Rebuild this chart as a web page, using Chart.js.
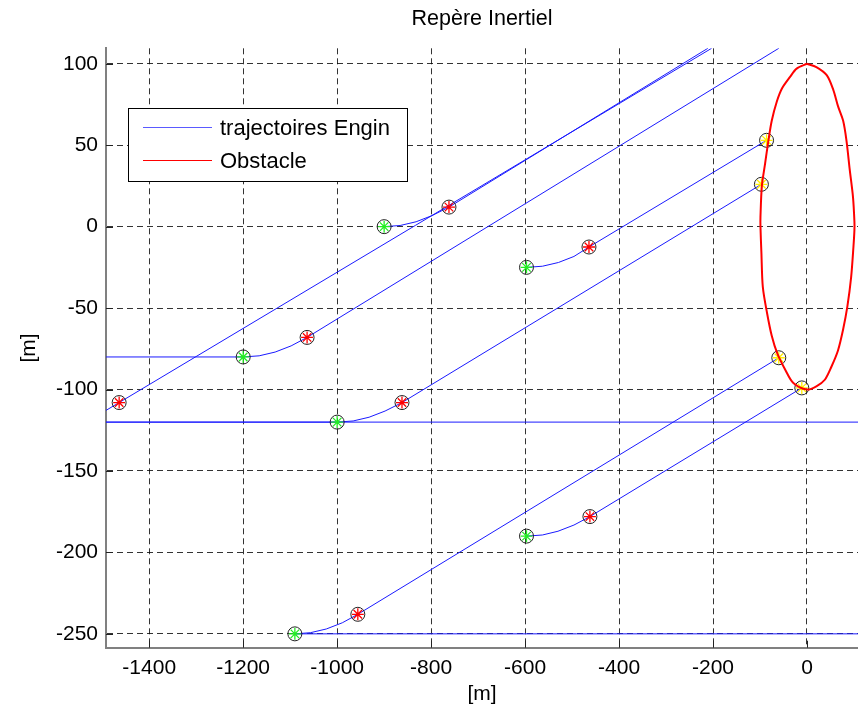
<!DOCTYPE html>
<html>
<head>
<meta charset="utf-8">
<script src="https://cdn.jsdelivr.net/npm/chart.js@4.4.1/dist/chart.umd.min.js"></script>
<style>
  html, body { margin: 0; padding: 0; background: #fff; }
  #chart { display: block; }
</style>
</head>
<body>
<canvas id="chart" width="858" height="707"></canvas>
<script>
// Tick labels
const xTicks = [-1400, -1200, -1000, -800, -600, -400, -200, 0];
const yTicks = [-250, -200, -150, -100, -50, 0, 50, 100];
const xMin = -1492, xMax = 108.6;
const yMin = -258.5, yMax = 109.5;

// Vehicle trajectories
const trajAX = [-1492, -1464, -203];
const trajAY = [-112.8, -108, 109.5];
const trajBX = [-1492, -1200, -1166, -1132, -1098, -1064, -60];
const trajBY = [-80, -80, -79.3, -77, -73.2, -68, 109.5];
const trajCX = [-900, -866, -832, -798, -762, -211];
const trajCY = [0, 0.7, 3, 6.8, 12, 109.5];
const trajDX = [-1492, -1000, -966, -932, -898, -862, -97];
const trajDY = [-120, -120, -119.3, -117, -113.2, -108, 26];
const trajEX = [-597, -563, -529, -496, -464, -86];
const trajEY = [-25, -24.3, -22, -18.3, -12.5, 53];
const trajFX = [-1492, 108.6];
const trajFY = [-120, -120];
const trajGX = [-1090, -1057, -1023, -989, -956, -60];
const trajGY = [-250, -249.3, -247, -243.2, -238, -80.5];
const trajHX = [-597, -563, -530, -496, -462, -11];
const trajHY = [-190, -189.3, -187, -183.2, -178, -99];
const trajIX = [-1090, 108.6];
const trajIY = [-250, -250];

// Obstacle outline
const obstacleX = [0, 20, 42, 56, 66, 77, 84, 91, 98, 101, 101, 99, 94, 86, 77, 66, 52, 38, 20, 0,
                   -29, -46, -63, -75, -85, -94, -97, -99, -99, -96, -89, -82, -75, -64, -53, -36, -22, 0];
const obstacleY = [100, 98, 93, 84, 74, 65, 53, 35, 18, 3, -2, -12, -31, -49, -63, -76, -86, -94, -98, -100,
                   -96, -88, -78, -67, -53, -37, -16, 0, 6, 25, 39, 53, 65, 77, 85, 92, 97, 100];

// Markers: start of manoeuvre (green), end of turn (red), contact (yellow)
const greenX = [-1200, -900, -1000, -597, -1090, -597];
const greenY = [-80, 0, -120, -25, -250, -190];
const redX = [-1464, -1064, -762, -862, -464, -956, -462];
const redY = [-108, -68, 12, -108, -12.5, -238, -178];
const yellowX = [-97, -86, -60, -11];
const yellowY = [26, 53, -80.5, -99];

const legendLabels = ['trajectoires Engin', 'Obstacle'];
const legendColors = ['#5a5aff', '#ff0000'];

function toPoints(xs, ys) {
    return xs.map((x, i) => ({ x: x, y: ys[i] }));
}

const trajectories = [
    [trajAX, trajAY], [trajBX, trajBY], [trajCX, trajCY], [trajDX, trajDY], [trajEX, trajEY],
    [trajFX, trajFY], [trajGX, trajGY], [trajHX, trajHY], [trajIX, trajIY]
];

const datasets = [];

// red obstacle on top
datasets.push({
    label: legendLabels[1],
    data: toPoints(obstacleX, obstacleY),
    showLine: true,
    borderColor: '#ff0000',
    borderWidth: 2,
    pointRadius: 0,
    tension: 0.3,
    order: 0
});

// markers: circle + star
function addMarkers(xs, ys, color) {
    datasets.push({
        data: toPoints(xs, ys),
        pointStyle: 'star',
        pointRadius: 6,
        pointBorderColor: color,
        pointBorderWidth: 1.3,
        showLine: false,
        order: 1
    });
    datasets.push({
        data: toPoints(xs, ys),
        pointStyle: 'circle',
        pointRadius: 7,
        pointBorderColor: '#222',
        pointBackgroundColor: 'rgba(255,255,255,0)',
        pointBorderWidth: 1,
        showLine: false,
        order: 1
    });
}
addMarkers(greenX, greenY, '#22ee22');
addMarkers(redX, redY, '#ff0000');
addMarkers(yellowX, yellowY, '#ffee00');

trajectories.forEach(t => {
    datasets.push({
        label: legendLabels[0],
        data: toPoints(t[0], t[1]),
        showLine: true,
        borderColor: '#1a1aff',
        borderWidth: 1,
        pointRadius: 0,
        order: 2
    });
});

// small inward ticks, like the original
const innerTicks = {
    id: 'innerTicks',
    beforeDatasetsDraw(chart) {
        const ctx = chart.ctx;
        const area = chart.chartArea;
        ctx.save();
        ctx.strokeStyle = '#222';
        ctx.lineWidth = 1;
        ctx.beginPath();
        xTicks.forEach(v => {
            const px = Math.round(chart.scales.x.getPixelForValue(v)) + 0.5;
            ctx.moveTo(px, area.bottom);
            ctx.lineTo(px, area.bottom - 7);
        });
        yTicks.forEach(v => {
            const py = Math.round(chart.scales.y.getPixelForValue(v)) + 0.5;
            ctx.moveTo(area.left, py);
            ctx.lineTo(area.left + 7, py);
        });
        ctx.stroke();
        ctx.restore();
    }
};

// boxed legend inside the plot
const boxLegend = {
    id: 'boxLegend',
    afterDraw(chart) {
        const ctx = chart.ctx;
        const bx = 128.5, by = 108.5, bw = 279, bh = 73;
        ctx.save();
        ctx.fillStyle = '#fff';
        ctx.fillRect(bx, by, bw, bh);
        ctx.strokeStyle = '#000';
        ctx.lineWidth = 1;
        ctx.strokeRect(bx, by, bw, bh);
        ctx.font = '22px "Liberation Sans", Arial, sans-serif';
        ctx.textBaseline = 'middle';
        ctx.fillStyle = '#000';
        legendLabels.forEach((lab, i) => {
            const y = 127.5 + i * 33;
            ctx.strokeStyle = legendColors[i];
            ctx.beginPath();
            ctx.moveTo(143, y);
            ctx.lineTo(212, y);
            ctx.stroke();
            ctx.fillText(lab, 220, y + 1);
        });
        ctx.restore();
    }
};

Chart.defaults.font.family = '"Liberation Sans", Arial, sans-serif';
Chart.defaults.color = '#000';

new Chart(document.getElementById('chart'), {
    type: 'scatter',
    data: { datasets: datasets },
    options: {
        responsive: false,
        animation: false,
        layout: { padding: 0, autoPadding: false },
        plugins: {
            legend: { display: false },
            tooltip: { enabled: false },
            title: {
                display: true,
                fullSize: false,
                text: 'Repère Inertiel',
                font: { size: 21.5, weight: 'normal' },
                color: '#000',
                padding: { top: 6, bottom: 16.5 }
            }
        },
        scales: {
            x: {
                type: 'linear',
                min: xMin,
                max: xMax,
                afterBuildTicks: s => { s.ticks = xTicks.map(v => ({ value: v })); },
                afterFit: s => { s.height = 59.3; },
                ticks: { font: { size: 21 }, padding: 8, color: '#000', callback: v => String(v) },
                grid: { color: 'rgba(0,0,0,0.8)', lineWidth: 1, drawTicks: false },
                border: { display: true, color: '#808080', width: 2, dash: [6, 4] },
                title: { display: true, text: '[m]', font: { size: 21 }, padding: { top: 0, bottom: 0 } }
            },
            y: {
                type: 'linear',
                min: yMin,
                max: yMax,
                afterBuildTicks: s => { s.ticks = yTicks.map(v => ({ value: v })); },
                afterFit: s => { s.width = 106; },
                ticks: { font: { size: 21 }, padding: 8, color: '#000', callback: v => String(v) },
                grid: { color: 'rgba(0,0,0,0.8)', lineWidth: 1, drawTicks: false },
                border: { display: true, color: '#808080', width: 2, dash: [6, 4] },
                title: { display: true, text: '[m]', font: { size: 21 }, padding: { top: 16.4, bottom: 0 } }
            }
        }
    },
    plugins: [innerTicks, boxLegend]
});
</script>
</body>
</html>
